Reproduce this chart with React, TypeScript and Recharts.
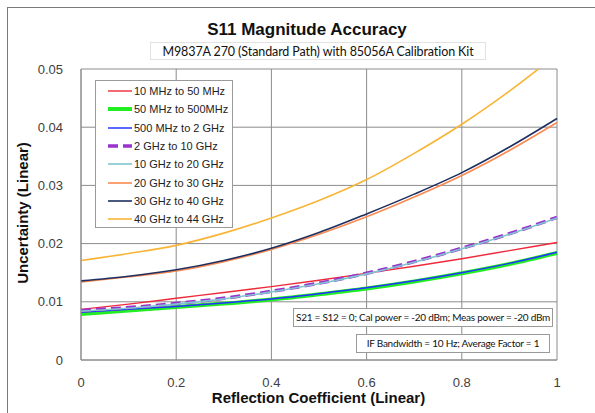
import { LineChart, Line, XAxis, YAxis, CartesianGrid } from 'recharts'

const REFL = [0, 0.1, 0.2, 0.3, 0.4, 0.5, 0.6, 0.7, 0.8, 0.9, 1]

const MHZ10_50 = [0.0087, 0.0096, 0.0106, 0.0116, 0.0126, 0.0137, 0.0149, 0.0161, 0.0174, 0.0188, 0.0202]
const MHZ50_500 = [0.0079, 0.0085, 0.0091, 0.0097, 0.0104, 0.0113, 0.0123, 0.0135, 0.0149, 0.0165, 0.0184]
const MHZ500_2G = [0.0082, 0.0087, 0.0092, 0.0098, 0.0105, 0.0114, 0.0124, 0.0136, 0.0150, 0.0166, 0.0185]
const GHZ2_10 = [0.0085, 0.0090, 0.0097, 0.0106, 0.0118, 0.0132, 0.0149, 0.0169, 0.0192, 0.0217, 0.0245]
const GHZ10_20 = [0.0084, 0.0089, 0.0096, 0.0105, 0.0117, 0.0131, 0.0148, 0.0168, 0.0191, 0.0216, 0.0244]
const GHZ20_30 = [0.0134, 0.0143, 0.0153, 0.0169, 0.0190, 0.0216, 0.0246, 0.0280, 0.0317, 0.0360, 0.0408]
const GHZ30_40 = [0.0136, 0.0144, 0.0155, 0.0171, 0.0192, 0.0219, 0.0251, 0.0285, 0.0322, 0.0366, 0.0415]
const GHZ40_44 = [0.0171, 0.0183, 0.0197, 0.0218, 0.0244, 0.0274, 0.0310, 0.0355, 0.0405, 0.0462, 0.0525]

const X_TICKS = [0, 0.2, 0.4, 0.6, 0.8, 1]
const Y_TICKS = [0, 0.01, 0.02, 0.03, 0.04, 0.05]

const SERIES = [
  { key: 'a', name: '10 MHz to 50 MHz', values: MHZ10_50, color: '#ee2a3a', width: 1.4 },
  { key: 'b', name: '50 MHz to 500MHz', values: MHZ50_500, color: '#22ee22', width: 4 },
  { key: 'c', name: '500 MHz to 2 GHz', values: MHZ500_2G, color: '#2233ff', width: 1.5 },
  { key: 'd', name: '2 GHz to 10 GHz', values: GHZ2_10, color: '#9933cc', width: 3.5, dash: '10 5' },
  { key: 'e', name: '10 GHz to 20 GHz', values: GHZ10_20, color: '#80c6d0', width: 1.6 },
  { key: 'f', name: '20 GHz to 30 GHz', values: GHZ20_30, color: '#fb8a52', width: 1.6 },
  { key: 'g', name: '30 GHz to 40 GHz', values: GHZ30_40, color: '#1f2f60', width: 1.6 },
  { key: 'h', name: '40 GHz to 44 GHz', values: GHZ40_44, color: '#f8b535', width: 1.6 },
]

const rows = REFL.map((x, i) => {
  const row: Record<string, number> = { x }
  SERIES.forEach(s => { row[s.key] = s.values[i] })
  return row
})

const tickStyle = { fontSize: 13, fill: '#404040', fontFamily: '"Liberation Sans", Arial, sans-serif' }

const noteStyle = {
  position: 'absolute' as const, height: 19, boxSizing: 'border-box' as const,
  border: '1px solid #9a9a9a', background: '#fff', textAlign: 'center' as const, lineHeight: '17px',
  fontFamily: 'Lato, sans-serif', fontSize: 10, letterSpacing: -0.25, color: '#111', whiteSpace: 'nowrap' as const,
}

export default function App() {
  return (
    <div style={{ position: 'absolute', left: 0, top: 0, width: 595, height: 413, background: '#fff', overflow: 'hidden' }}>
      {/* outer frame (partly visible) */}
      <div style={{ position: 'absolute', left: 7, top: 7, width: 600, height: 420, borderLeft: '1px solid #7a7a7a', borderTop: '1px solid #7a7a7a' }} />

      <div style={{
        position: 'absolute', left: 0, width: 614, top: 20, textAlign: 'center',
        fontFamily: '"Liberation Sans", Arial, sans-serif', fontWeight: 'bold', fontSize: 17, color: '#111',
      }}>
        S11 Magnitude Accuracy
      </div>
      <div style={{
        position: 'absolute', left: 150, top: 42, width: 336, height: 18, boxSizing: 'border-box',
        border: '1px solid #e2e2e2', textAlign: 'center', lineHeight: '17px', whiteSpace: 'nowrap',
        fontFamily: 'Lato, sans-serif', fontSize: 12.5, letterSpacing: -0.1, color: '#111',
      }}>
        M9837A 270 (Standard Path) with 85056A Calibration Kit
      </div>

      <LineChart
        width={595}
        height={413}
        data={rows}
        margin={{ top: 69, right: 38, bottom: 22, left: 30 }}
        style={{ position: 'absolute', left: 0, top: 0 }}
      >
        <CartesianGrid stroke="#8c8c8c" strokeWidth={1} horizontalValues={Y_TICKS} verticalValues={X_TICKS} />
        <XAxis
          dataKey="x"
          type="number"
          domain={[0, 1]}
          ticks={X_TICKS}
          tickLine={false}
          axisLine={{ stroke: '#8c8c8c' }}
          tick={tickStyle}
          tickMargin={12}
          height={31}
          interval={0}
        />
        <YAxis
          type="number"
          domain={[0, 0.05]}
          ticks={Y_TICKS}
          allowDataOverflow
          tickLine={false}
          axisLine={{ stroke: '#8c8c8c' }}
          tick={tickStyle}
          tickMargin={12}
          width={51}
          interval={0}
        />
        {SERIES.map(s => (
          <Line
            key={s.key}
            dataKey={s.key}
            name={s.name}
            type="monotone"
            stroke={s.color}
            strokeWidth={s.width}
            strokeDasharray={s.dash}
            dot={false}
            activeDot={false}
            isAnimationActive={false}
          />
        ))}
      </LineChart>

      <div style={{
        position: 'absolute', left: 22, top: 213, transform: 'translate(-50%, -50%) rotate(-90deg)',
        whiteSpace: 'nowrap', fontFamily: '"Liberation Sans", Arial, sans-serif', fontWeight: 'bold', fontSize: 15, color: '#111',
      }}>
        Uncertainty (Linear)
      </div>
      <div style={{
        position: 'absolute', left: 80, width: 477, top: 389, textAlign: 'center',
        fontFamily: '"Liberation Sans", Arial, sans-serif', fontWeight: 'bold', fontSize: 15, color: '#111',
      }}>
        Reflection Coefficient (Linear)
      </div>

      {/* legend */}
      <div style={{
        position: 'absolute', left: 95, top: 80, width: 138, height: 148, boxSizing: 'border-box',
        border: '1px solid #9a9a9a', background: '#fff', paddingTop: 1,
      }}>
        {SERIES.map(s => (
          <div key={s.key} style={{ display: 'flex', alignItems: 'center', height: 18.3 }}>
            <svg width={26} height={8} style={{ marginLeft: 11, marginRight: 1 }}>
              <line x1={1} y1={4} x2={25} y2={4} stroke={s.color} strokeWidth={s.width} strokeDasharray={s.dash} />
            </svg>
            <span style={{ fontFamily: '"Liberation Sans", Arial, sans-serif', fontSize: 11, color: '#222', whiteSpace: 'nowrap' }}>
              {s.name}
            </span>
          </div>
        ))}
      </div>

      <div style={{ ...noteStyle, left: 293, top: 308, width: 260 }}>
        S21 = S12 = 0; Cal power = -20 dBm; Meas power = -20 dBm
      </div>
      <div style={{ ...noteStyle, left: 356, top: 334, width: 194 }}>
        IF Bandwidth = 10 Hz; Average Factor = 1
      </div>
    </div>
  )
}
